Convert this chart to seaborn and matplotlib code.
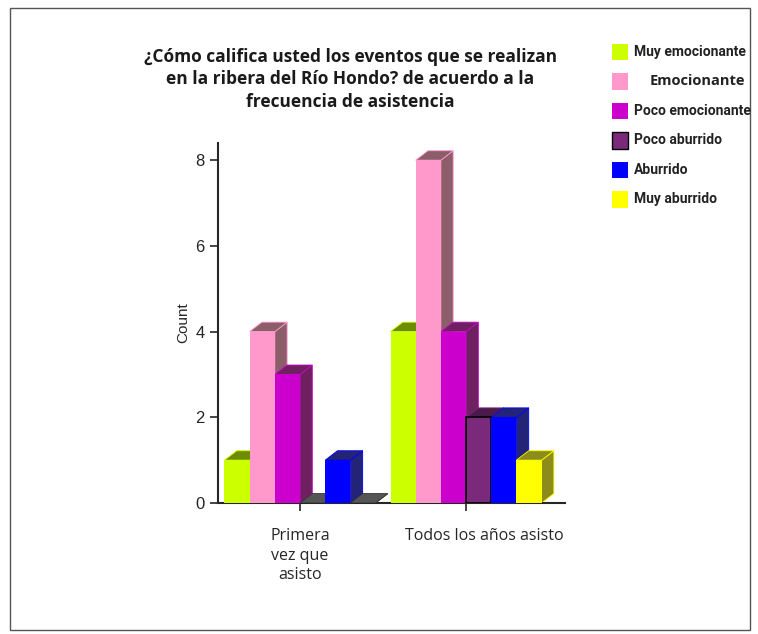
import numpy as np
import pandas as pd
import matplotlib
matplotlib.use("Agg")
import matplotlib.pyplot as plt
import matplotlib.transforms as mtransforms
import seaborn as sns
from matplotlib.patches import Polygon, Rectangle

sns.set_style("white")
plt.rcParams['font.family'] = ['Liberation Sans', 'DejaVu Sans']

# data
groups = ["Primera\nvez que\nasisto", "Todos los años asisto"]
ratings = ["Muy emocionante", "Emocionante", "Poco emocionante",
           "Poco aburrido", "Aburrido", "Muy aburrido"]
primera = [1, 4, 3, 0, 1, 0]
todos = [4, 8, 4, 2, 2, 1]

face_colors = ["#CCFF00", "#FF99CC", "#CC00CC", "#7B2A7B", "#0000FF", "#FFFF00"]
side_colors = ["#6E8C00", "#8B5E6A", "#6F2060", "#4A1A4A", "#232378", "#8C8C1A"]

df = pd.DataFrame({
    "grupo": [groups[0]] * 6 + [groups[1]] * 6,
    "calif": ratings * 2,
    "n": primera + todos,
})

fig = plt.figure(figsize=(7.58, 6.34), dpi=100)
ax = fig.add_axes([0.2876, 0.2066, 0.4578, 0.5678])

sns.barplot(data=df, x="grupo", y="n", hue="calif", hue_order=ratings,
            palette=face_colors, width=0.91, ax=ax, legend=False,
            saturation=1, edgecolor="none", linewidth=0)

ax.set_xlim(-0.494, 1.596)
ax.set_ylim(0, 8.4)

# fake 3D depth faces from bar patches
dx, dy = 0.074, 0.22
bars = [p for p in ax.patches if isinstance(p, Rectangle)]
for i, p in enumerate(bars):
    k = i // 2
    x0, w, h = p.get_x(), p.get_width(), p.get_height()
    fc = side_colors[k] if h > 0 else "#555555"
    ec = face_colors[k] if h > 0 else "#333333"
    top = Polygon([(x0, h), (x0 + dx, h + dy), (x0 + w + dx, h + dy), (x0 + w, h)],
                  closed=True, facecolor=fc, edgecolor=ec, lw=0.6, zorder=3)
    side = Polygon([(x0 + w, 0), (x0 + w, h), (x0 + w + dx, h + dy), (x0 + w + dx, dy)],
                   closed=True, facecolor=fc, edgecolor=ec, lw=0.6, zorder=2)
    ax.add_patch(side)
    ax.add_patch(top)
    p.set_zorder(4)
    if k == 3 and h > 0:
        p.set_edgecolor("black")
        p.set_linewidth(1.2)

for s in ["top", "right"]:
    ax.spines[s].set_visible(False)
ax.spines["left"].set_linewidth(1.5)
ax.spines["bottom"].set_linewidth(1.5)
ax.set_yticks([0, 2, 4, 6, 8])
ax.tick_params(axis="y", length=6, width=1.2, labelsize=12, left=True)
ax.tick_params(axis="x", length=6, width=1.2, bottom=True, labelsize=11.5, pad=12)
ax.set_xlabel("")
ax.set_ylabel("Count", fontsize=11)
xlabels = ax.get_xticklabels()
for t in xlabels:
    t.set_family(["Open Sans", "DejaVu Sans"])
    t.set_linespacing(1.3)
xlabels[1].set_transform(xlabels[1].get_transform() +
                         mtransforms.ScaledTranslation(0.18, 0, fig.dpi_scale_trans))

fig.text(0.462, 0.925,
         "¿Cómo califica usted los eventos que se realizan\nen la ribera del Río Hondo? de acuerdo a la\nfrecuencia de asistencia",
         ha="center", va="top", fontsize=12.5, fontweight="bold",
         family=["Open Sans", "DejaVu Sans"], linespacing=1.35, color="#1a1a1a")

# legend
leg_y = 0.918
for k, name in enumerate(ratings):
    y = leg_y - k * 0.0465
    fig.patches.append(Rectangle((0.808, y - 0.013), 0.021, 0.026, transform=fig.transFigure,
                                 facecolor=face_colors[k],
                                 edgecolor="black" if k == 3 else "none", lw=1.0))
    if k == 1:
        fig.text(0.857, y, name, ha="left", va="center", fontsize=10.5, fontweight="bold",
                 family=["Open Sans", "DejaVu Sans"], color="#222222")
    else:
        fig.text(0.836, y, name, ha="left", va="center", fontsize=10, fontweight="bold",
                 family=["Roboto", "DejaVu Sans"], color="#222222")

fig.patches.append(Rectangle((0.013, 0.006), 0.976, 0.981, transform=fig.transFigure,
                             facecolor="none", edgecolor="#555555", lw=1.0))

fig.savefig("out.png", dpi=100)
